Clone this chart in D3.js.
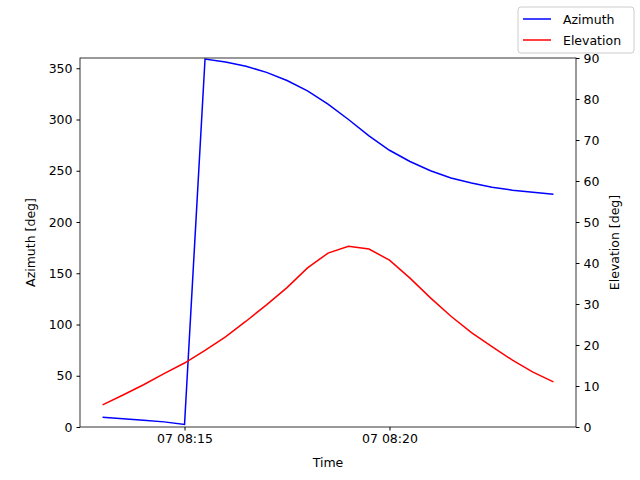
<!DOCTYPE html>
<html><head><meta charset="utf-8">
<script src="https://cdn.jsdelivr.net/npm/d3@7"></script>
<style>body{margin:0;background:#fff}text{font-family:"DejaVu Sans",sans-serif}</style>
</head><body><svg id="c" width="640" height="480"></svg>
<script>
const times = ["08:13:00","08:13:30","08:14:00","08:14:30","08:15:00","08:15:30","08:16:00","08:16:30","08:17:00","08:17:30","08:18:00","08:18:30","08:19:00","08:19:30","08:20:00","08:20:30","08:21:00","08:21:30","08:22:00","08:22:30","08:23:00","08:23:30","08:24:00"];
const azimuth = [9.5,8,6.5,5,2.5,359,356,352,346,338,328,315,300,284,270,259,250,243,238,234,231,229,227];
const elevation = [5.4,7.8,10.3,13,15.6,18.7,22,25.8,29.8,34,38.8,42.4,44.1,43.4,40.7,36.3,31.5,27,23,19.6,16.3,13.4,11];
const xTicks = ["08:15:00","08:20:00"];
const leftTicks = [0,50,100,150,200,250,300,350];
const rightTicks = [0,10,20,30,40,50,60,70,80,90];

const P = s => new Date("2024-01-07T"+s);
const svg = d3.select("#c");
const L=80,R=576,T=58,B=427;
const x = d3.scaleTime().domain([P("08:12:27"),P("08:24:33")]).range([L,R]);
const yL = d3.scaleLinear().domain([0,360]).range([B,T]);
const yR = d3.scaleLinear().domain([0,90]).range([B,T]);
const fs=12.5;
function style(g){g.selectAll("text").style("font-size",fs+"px").attr("fill","#000");g.selectAll("line,path").attr("stroke","#000");g.select(".domain").remove();}
svg.append("g").attr("transform",`translate(0,${B})`).call(d3.axisBottom(x).tickValues(xTicks.map(P)).tickFormat(d=>"07 "+d3.timeFormat("%H:%M")(d)).tickSizeOuter(0).tickSize(3.5).tickPadding(4)).call(style);
svg.append("g").attr("transform",`translate(${L},0)`).call(d3.axisLeft(yL).tickValues(leftTicks).tickSize(3.5).tickPadding(4)).call(style);
svg.append("g").attr("transform",`translate(${R},0)`).call(d3.axisRight(yR).tickValues(rightTicks).tickSize(3.5).tickPadding(4)).call(style);
const clip=svg.append("clipPath").attr("id","cl").append("rect").attr("x",L).attr("y",T).attr("width",R-L).attr("height",B-T);
const line=(arr,y)=>d3.line().x((d,i)=>x(P(times[i]))).y(d=>y(d))(arr);
svg.append("path").attr("d",line(azimuth,yL)).attr("fill","none").attr("stroke","#0000ff").attr("stroke-width",1.5).attr("clip-path","url(#cl)");
svg.append("path").attr("d",line(elevation,yR)).attr("fill","none").attr("stroke","#ff0000").attr("stroke-width",1.5).attr("clip-path","url(#cl)");
svg.append("rect").attr("x",L).attr("y",T).attr("width",R-L).attr("height",B-T).attr("fill","none").attr("stroke","#000").attr("stroke-width",0.8);
svg.append("text").attr("x",(L+R)/2).attr("y",467).attr("text-anchor","middle").style("font-size",fs+"px").text("Time");
svg.append("text").attr("transform",`translate(35,${(T+B)/2}) rotate(-90)`).attr("text-anchor","middle").style("font-size",fs+"px").text("Azimuth [deg]");
svg.append("text").attr("transform",`translate(619,${(T+B)/2}) rotate(-90)`).attr("text-anchor","middle").style("font-size",fs+"px").text("Elevation [deg]");
const lg=svg.append("g");
lg.append("rect").attr("x",518).attr("y",7).attr("width",116).attr("height",46).attr("rx",3).attr("fill","#fff").attr("stroke","#ccc");
[["Azimuth","#0000ff"],["Elevation","#ff0000"]].forEach(([n,c],i)=>{
 const yy=19+i*21;
 lg.append("line").attr("x1",523).attr("x2",551).attr("y1",yy).attr("y2",yy).attr("stroke",c).attr("stroke-width",1.5);
 lg.append("text").attr("x",563).attr("y",yy+4.5).style("font-size",fs+"px").text(n);
});
</script></body></html>
